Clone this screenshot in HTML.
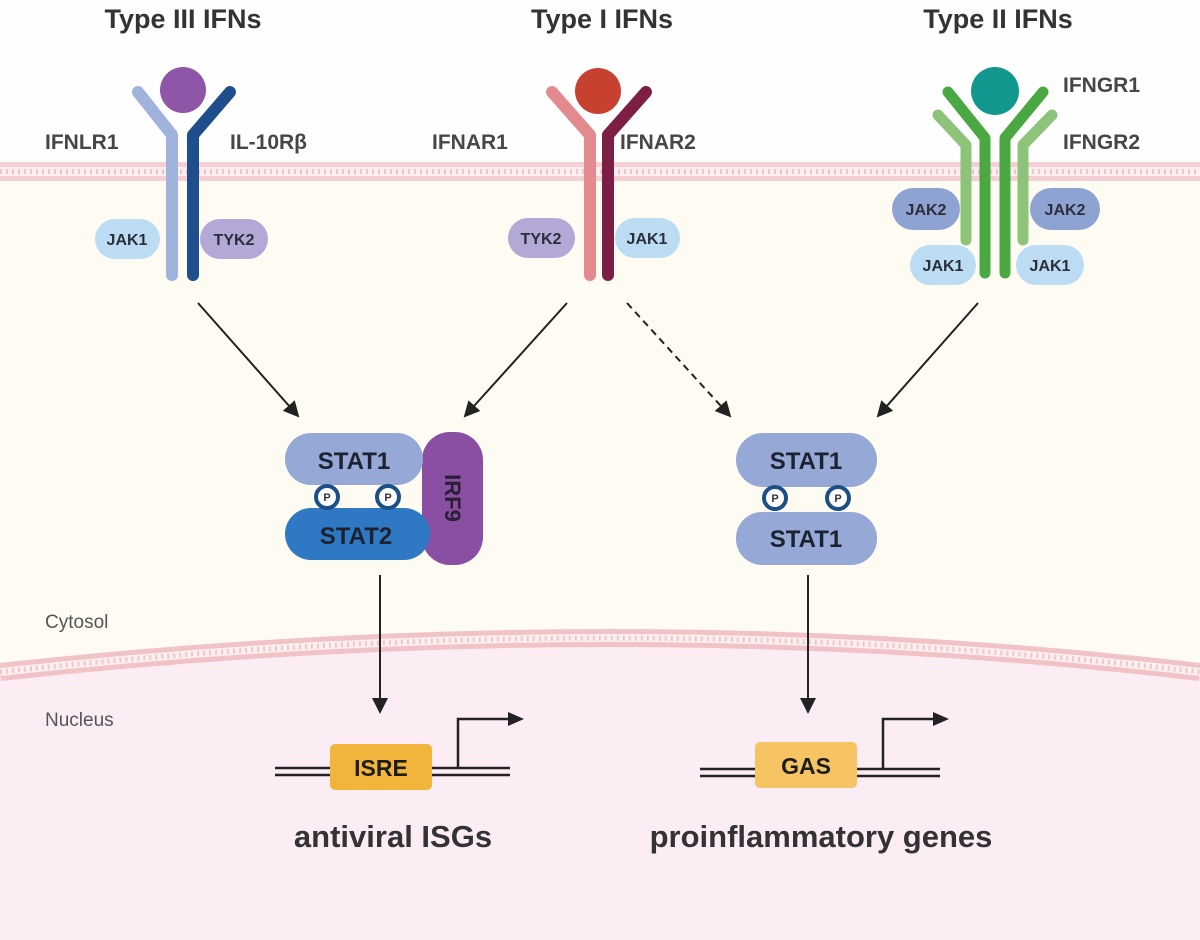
<!DOCTYPE html>
<html><head><meta charset="utf-8"><style>html,body{margin:0;padding:0;background:#fff}svg{display:block}</style></head><body>
<svg width="1200" height="940" viewBox="0 0 1200 940" xmlns="http://www.w3.org/2000/svg" font-family="Liberation Sans, sans-serif">
<defs>
<marker id="ah2" markerWidth="16" markerHeight="16" refX="14" refY="8" orient="auto" markerUnits="userSpaceOnUse"><path d="M0,0 L16,8 L0,16 Z" fill="#222"/></marker>
</defs>
<rect width="1200" height="940" fill="#fefefe"/>
<rect y="170" width="1200" height="770" fill="#fdfbf2"/>
<path d="M0,672 Q620,604 1200,672 L1200,940 L0,940 Z" fill="#fcedf4"/>
<path d="M0,672 Q620,604 1200,672" fill="none" stroke="#f1c3c8" stroke-width="18"/>
<path d="M0,672 Q620,604 1200,672" fill="none" stroke="#fbeff0" stroke-width="8"/>
<path d="M0,672 Q620,604 1200,672" fill="none" stroke="#efc6ca" stroke-width="5" stroke-dasharray="2 4"/>
<rect y="162" width="1200" height="19" fill="#f4cfd3"/>
<rect y="167" width="1200" height="9" fill="#fbeef0"/>
<line x1="0" y1="171.5" x2="1200" y2="171.5" stroke="#efc6ca" stroke-width="5" stroke-dasharray="2 4"/>
<g font-weight="bold" font-size="27" fill="#333" text-anchor="middle">
<text x="183" y="28">Type III IFNs</text>
<text x="602" y="28">Type I IFNs</text>
<text x="998" y="28">Type II IFNs</text>
</g>
<g font-size="21" fill="#333" font-weight="bold" opacity="0.9">
<text x="45" y="149">IFNLR1</text>
<text x="230" y="149">IL-10Rβ</text>
<text x="432" y="149">IFNAR1</text>
<text x="620" y="149">IFNAR2</text>
<text x="1063" y="92">IFNGR1</text>
<text x="1063" y="149">IFNGR2</text>
</g>
<g stroke-linecap="round" stroke-linejoin="round" fill="none" stroke-width="12">
<path d="M138,92 L172,135 L172,275" stroke="#9fb3dc"/>
<path d="M230,92 L193,135 L193,275" stroke="#1e4e8c"/>
</g>
<circle cx="183" cy="90" r="23" fill="#8e55a8"/>
<rect x="95" y="219" width="65" height="40" rx="20" fill="#bcdcf3"/>
<rect x="200" y="219" width="68" height="40" rx="20" fill="#b3a8d6"/>
<g stroke-linecap="round" stroke-linejoin="round" fill="none" stroke-width="12">
<path d="M552,92 L590,135 L590,275" stroke="#e38a8e"/>
<path d="M646,92 L608,135 L608,275" stroke="#7d1f45"/>
</g>
<circle cx="598" cy="91" r="23" fill="#c8402f"/>
<rect x="508" y="218" width="67" height="40" rx="20" fill="#b3a8d6"/>
<rect x="615" y="218" width="65" height="40" rx="20" fill="#bcdcf3"/>
<g stroke-linecap="round" stroke-linejoin="round" fill="none" stroke-width="11">
<path d="M938,115 L966,145 L966,240" stroke="#8dc47a"/>
<path d="M1052,115 L1023,145 L1023,240" stroke="#8dc47a"/>
<path d="M948,92 L985,138 L985,273" stroke="#4aa842"/>
<path d="M1043,92 L1005,138 L1005,273" stroke="#4aa842"/>
</g>
<circle cx="995" cy="91" r="24" fill="#11978d"/>
<rect x="892" y="188" width="68" height="42" rx="21" fill="#8fa3d3"/>
<rect x="1030" y="188" width="70" height="42" rx="21" fill="#8fa3d3"/>
<rect x="910" y="245" width="66" height="40" rx="20" fill="#bcdcf3"/>
<rect x="1016" y="245" width="68" height="40" rx="20" fill="#bcdcf3"/>
<g font-size="16" font-weight="bold" fill="#2a2f3a" text-anchor="middle">
<text x="127" y="245">JAK1</text>
<text x="234" y="245">TYK2</text>
<text x="541" y="244">TYK2</text>
<text x="647" y="244">JAK1</text>
<text x="926" y="215">JAK2</text>
<text x="1065" y="215">JAK2</text>
<text x="943" y="271">JAK1</text>
<text x="1050" y="271">JAK1</text>
</g>
<g stroke="#222" stroke-width="2">
<line x1="198" y1="303" x2="298" y2="416" marker-end="url(#ah2)"/>
<line x1="567" y1="303" x2="465" y2="416" marker-end="url(#ah2)"/>
<line x1="627" y1="303" x2="730" y2="416" stroke-dasharray="7 5" marker-end="url(#ah2)"/>
<line x1="978" y1="303" x2="878" y2="416" marker-end="url(#ah2)"/>
<line x1="380" y1="575" x2="380" y2="712" marker-end="url(#ah2)"/>
<line x1="808" y1="575" x2="808" y2="712" marker-end="url(#ah2)"/>
</g>
<rect x="422" y="432" width="61" height="133" rx="28" fill="#8a4ea2"/>
<rect x="285" y="433" width="138" height="52" rx="26" fill="#96a8d6"/>
<rect x="285" y="508" width="145" height="52" rx="26" fill="#2f78c4"/>
<text x="453" y="498" font-size="22" font-weight="bold" fill="#2a1f33" text-anchor="middle" transform="rotate(90 453 498)" dy="8">IRF9</text>
<rect x="736" y="433" width="141" height="54" rx="27" fill="#96a8d6"/>
<rect x="736" y="512" width="141" height="53" rx="26" fill="#96a8d6"/>
<g font-size="24" font-weight="bold" fill="#1d2230" text-anchor="middle">
<text x="354" y="469">STAT1</text>
<text x="356" y="544">STAT2</text>
<text x="806" y="469">STAT1</text>
<text x="806" y="547">STAT1</text>
</g>
<g fill="#fff" stroke="#1c4f86" stroke-width="4">
<circle cx="327" cy="497" r="11"/><circle cx="388" cy="497" r="11"/>
<circle cx="775" cy="498" r="11"/><circle cx="838" cy="498" r="11"/>
</g>
<g font-size="11" font-weight="bold" fill="#333" text-anchor="middle">
<text x="327" y="501">P</text><text x="388" y="501">P</text>
<text x="775" y="502">P</text><text x="838" y="502">P</text>
</g>
<text x="45" y="628" font-size="19" fill="#555">Cytosol</text>
<text x="45" y="726" font-size="19" fill="#555">Nucleus</text>
<g stroke="#222" stroke-width="2.5">
<line x1="275" y1="768" x2="510" y2="768"/><line x1="275" y1="775" x2="510" y2="775"/>
<line x1="700" y1="769" x2="940" y2="769"/><line x1="700" y1="776" x2="940" y2="776"/>
</g>
<rect x="330" y="744" width="102" height="46" rx="5" fill="#f2b53b"/>
<rect x="755" y="742" width="102" height="46" rx="5" fill="#f6c463"/>
<g font-size="23" font-weight="bold" fill="#1d1d1d" text-anchor="middle">
<text x="381" y="776">ISRE</text>
<text x="806" y="774">GAS</text>
</g>
<g stroke="#222" stroke-width="2.5" fill="none">
<path d="M458,768 L458,719 L510,719"/>
<path d="M883,769 L883,719 L935,719"/>
</g>
<path d="M508,712 L524,719 L508,726 Z" fill="#222"/>
<path d="M933,712 L949,719 L933,726 Z" fill="#222"/>
<g font-size="31" font-weight="bold" fill="#333" text-anchor="middle">
<text x="393" y="847">antiviral ISGs</text>
<text x="821" y="847">proinflammatory genes</text>
</g>
</svg>
</body></html>
